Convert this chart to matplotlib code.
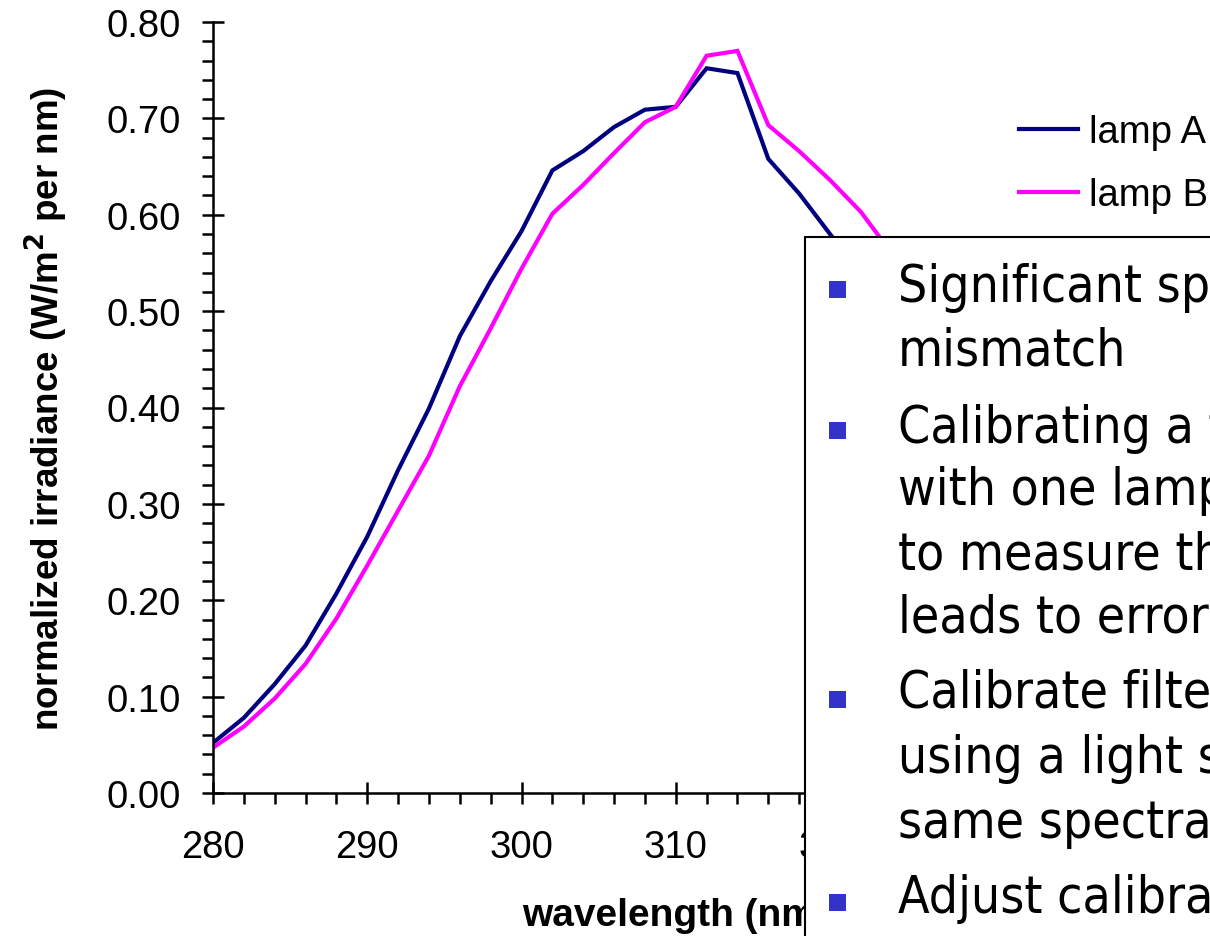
import matplotlib
matplotlib.use("Agg")
import matplotlib.pyplot as plt
from matplotlib.patches import Rectangle
from matplotlib.ticker import MultipleLocator, FormatStrFormatter

# wavelength grid (nm) and normalized irradiance
wl_a = [280, 282, 284, 286, 288, 290, 292, 294, 296, 298, 300, 302, 304, 306,
        308, 310, 312, 314, 316, 318, 320, 322]
lamp_a = [0.052, 0.078, 0.113, 0.153, 0.207, 0.266, 0.335, 0.399, 0.474, 0.531,
          0.583, 0.646, 0.666, 0.691, 0.709, 0.712, 0.752, 0.747, 0.658, 0.622,
          0.580, 0.540]
wl_b = [280, 282, 284, 286, 288, 290, 292, 294, 296, 298, 300, 302, 304, 306,
        308, 310, 312, 314, 316, 318, 320, 322, 324]
lamp_b = [0.047, 0.069, 0.098, 0.134, 0.181, 0.236, 0.293, 0.350, 0.422, 0.482,
          0.544, 0.601, 0.631, 0.664, 0.696, 0.712, 0.765, 0.770, 0.693, 0.666,
          0.636, 0.603, 0.560]

bullets = [
    ["Significant spectral", "mismatch"],
    ["Calibrating a filter radiometer", "with one lamp and using it",
     "to measure the other lamp", "leads to errors"],
    ["Calibrate filter radiometers", "using a light source with the",
     "same spectral distribution"],
    ["Adjust calibration factors"],
]

W, H = 1210, 937
fig = plt.figure(figsize=(12.1, 9.37), dpi=100)
ax = fig.add_axes([213 / W, 1 - 794 / H, (1138.5 - 213) / W, (794 - 23) / H])

ax.plot(wl_a, lamp_a, color="#000080", lw=3.0, label="lamp A", solid_joinstyle="miter")
ax.plot(wl_b, lamp_b, color="#FF00FF", lw=3.0, label="lamp B", solid_joinstyle="miter")

ax.set_xlim(280, 340)
ax.set_ylim(0, 0.8)
ax.xaxis.set_major_locator(MultipleLocator(10))
ax.xaxis.set_minor_locator(MultipleLocator(2))
ax.yaxis.set_major_locator(MultipleLocator(0.1))
ax.yaxis.set_minor_locator(MultipleLocator(0.02))
ax.yaxis.set_major_formatter(FormatStrFormatter("%.2f"))

for s in ["top", "right"]:
    ax.spines[s].set_visible(False)
for s in ["left", "bottom"]:
    ax.spines[s].set_linewidth(1.8)

ax.tick_params(which="major", direction="inout", length=16.5, width=1.8,
               labelsize=27.5)
ax.tick_params(axis="y", which="major", pad=15)
ax.tick_params(axis="x", which="major", pad=18)
ax.tick_params(which="minor", direction="out", length=8, width=1.8)
for lab in ax.get_xticklabels() + ax.get_yticklabels():
    lab.set_family("Liberation Sans")

ax.set_xlabel("wavelength (nm)", fontsize=28, fontweight="bold",
              family="Liberation Sans", labelpad=23)
ax.set_ylabel("normalized irradiance (W/m$^\\mathbf{2}$ per nm)", fontsize=26.5,
              fontweight="bold", family="Liberation Sans", labelpad=26)

leg = ax.legend(loc="upper left", bbox_to_anchor=(1019 / W, 1 - 115 / H),
                bbox_transform=fig.transFigure, frameon=False, borderpad=0,
                borderaxespad=0,
                prop={"family": "Liberation Sans", "size": 27.5},
                handlelength=1.55, handletextpad=0.28, labelspacing=0.72)

# white text box laid over the right part of the chart
box = Rectangle((805 / W, -0.05), 0.5, 1 - 238 / H + 0.05, transform=fig.transFigure,
                facecolor="white", edgecolor="black", lw=1.5, zorder=10)
fig.patches.append(box)

bullet_y = [290, 431, 700, 903]
baselines = [[302, 366], [443, 505, 570, 633], [708, 773, 838], [913]]
for by, lines, bls in zip(bullet_y, bullets, baselines):
    sq = Rectangle(((838 - 8.5) / W, 1 - (by + 8.5) / H), 17 / W, 17 / H,
                   transform=fig.transFigure, facecolor="#3333CC",
                   edgecolor="none", zorder=11)
    fig.patches.append(sq)
    for line, bl in zip(lines, bls):
        fig.text(898 / W, 1 - bl / H, line, fontsize=37, va="baseline",
                 family="DejaVu Sans", stretch="condensed", zorder=12)

fig.savefig("out.png", dpi=100)
